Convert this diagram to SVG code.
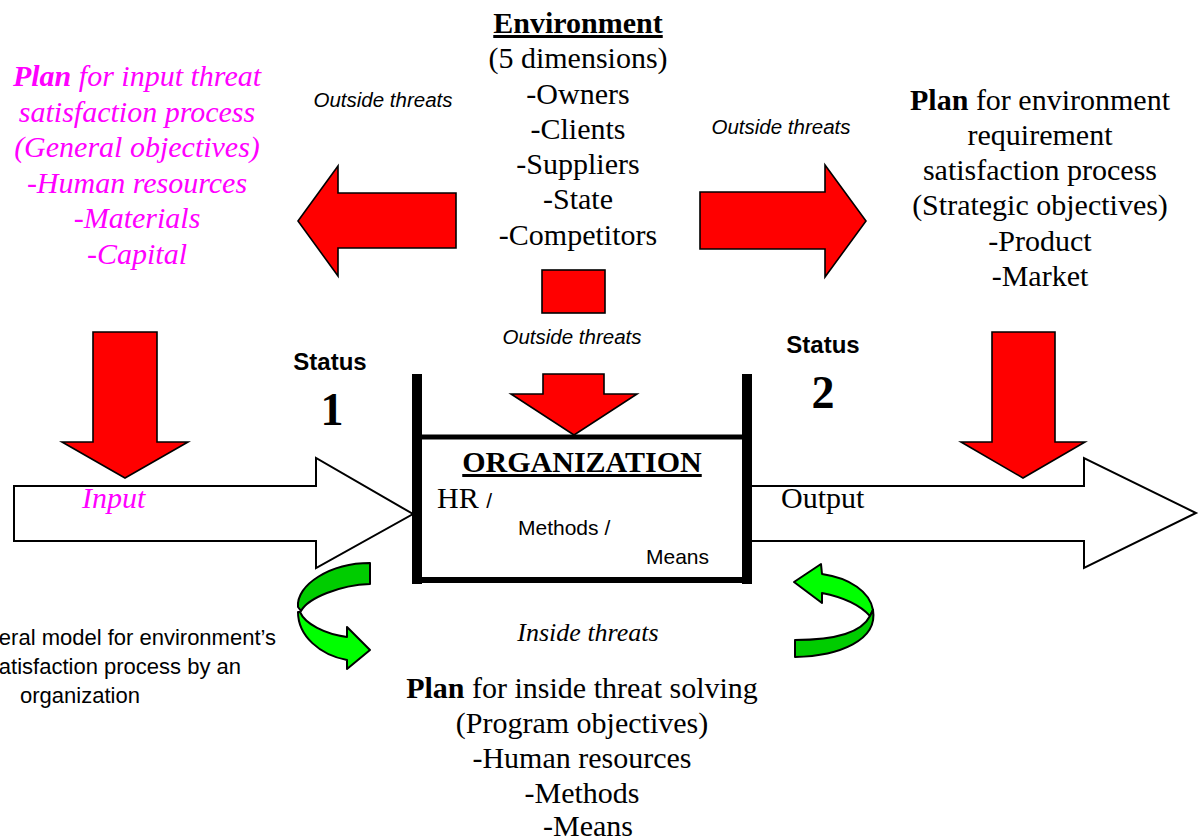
<svg xmlns="http://www.w3.org/2000/svg" width="1199" height="839" viewBox="0 0 1199 839">
<style>
.serif{font-family:"Liberation Serif","Times New Roman",serif;font-size:30px;fill:#000}
.sans{font-family:"Liberation Sans",Arial,sans-serif;fill:#000}
.mid{text-anchor:middle}
.mag{fill:#FF00FF;font-style:italic}
.ot{font-family:"Liberation Sans",Arial,sans-serif;font-style:italic;font-size:20.5px;text-anchor:middle;fill:#000}
.red{fill:#FF0000;stroke:#000;stroke-width:1.6;stroke-linejoin:miter}
.white{fill:#fff;stroke:#000;stroke-width:2}
.gl{fill:#00FF00;stroke:#000;stroke-width:2;stroke-linejoin:round}
.gd{fill:#00CC00;stroke:#000;stroke-width:2;stroke-linejoin:round}
.big{font-size:46px;font-weight:bold}
</style>
<rect width="1199" height="839" fill="#fff"/>
<g id="connectors">
  <polygon class="red" points="298,221 338,166 338,193 456,193 456,248 338,248 338,276"/>
  <polygon class="red" points="700,192 825,192 825,165 866,221 825,277 825,249 700,249"/>
  <rect class="red" x="542" y="270" width="63" height="43"/>
  <polygon class="red" points="93,332 157,332 157,442 188,442 125,478 62,442 93,442"/>
  <polygon class="red" points="992,332 1055,332 1055,442 1085,442 1023,478 961,442 992,442"/>
  <polygon class="white" points="14,486 316,486 316,458 413,514 316,568 316,541 14,541"/>
  <polygon class="white" points="748,486 1084,486 1084,458 1196,513 1084,568 1084,541 748,541"/>
  <path class="gd" d="M370,563 L370,584 C340,585 308,598 301,611 L298,607 C296,585 330,563 370,563 Z"/>
  <path class="gl" d="M298,612 C298,636 320,655 347,660 L347,669 L370,650 L347,627 L347,637 C325,634 305,624 300,612 Z"/>
  <path class="gl" d="M794,582 L821,564 L822,574 C850,578 870,592 873,610 L870,616 C860,605 842,597 822,593 L822,603 Z"/>
  <path class="gd" d="M873,610 C878,640 840,656 795,657 L795,640 C838,640 862,632 870,616 Z"/>
</g>
<g id="organization">
  <line x1="417" y1="374" x2="417" y2="584" stroke="#000" stroke-width="10"/>
  <line x1="747" y1="374" x2="747" y2="584" stroke="#000" stroke-width="10"/>
  <line x1="417" y1="437" x2="747" y2="437" stroke="#000" stroke-width="5"/>
  <line x1="417" y1="580" x2="747" y2="580" stroke="#000" stroke-width="6"/>
  <polygon class="red" points="543,374 604,374 604,394 637,394 574,435 511,394 543,394"/>
  <text class="serif mid" x="582" y="472" font-weight="bold" text-decoration="underline">ORGANIZATION</text>
  <text class="serif" x="437" y="508">HR <tspan class="sans" style="font-size:21px">/</tspan></text>
  <text class="sans" x="518" y="535" style="font-size:21px">Methods /</text>
  <text class="sans" x="646" y="564" style="font-size:21px">Means</text>
</g>
<g id="environment">
  <text class="serif mid" x="578" y="33" font-weight="bold" text-decoration="underline">Environment</text>
  <text class="serif mid" x="578" y="68">(5 dimensions)</text>
  <text class="serif mid" x="578" y="104">-Owners</text>
  <text class="serif mid" x="578" y="139">-Clients</text>
  <text class="serif mid" x="578" y="174">-Suppliers</text>
  <text class="serif mid" x="578" y="209">-State</text>
  <text class="serif mid" x="578" y="245">-Competitors</text>
</g>
<g id="input-plan">
  <text class="serif mid mag" x="137" y="86"><tspan font-weight="bold">Plan</tspan> for input threat</text>
  <text class="serif mid mag" x="137" y="122">satisfaction process</text>
  <text class="serif mid mag" x="137" y="157">(General objectives)</text>
  <text class="serif mid mag" x="137" y="193">-Human resources</text>
  <text class="serif mid mag" x="137" y="228">-Materials</text>
  <text class="serif mid mag" x="137" y="264">-Capital</text>
</g>
<g id="environment-plan">
  <text class="serif mid" x="1040" y="110"><tspan font-weight="bold">Plan</tspan> for environment</text>
  <text class="serif mid" x="1040" y="145">requirement</text>
  <text class="serif mid" x="1040" y="180">satisfaction process</text>
  <text class="serif mid" x="1040" y="215">(Strategic objectives)</text>
  <text class="serif mid" x="1040" y="251">-Product</text>
  <text class="serif mid" x="1040" y="286">-Market</text>
</g>
<g id="inside-plan">
  <text class="serif mid" x="582" y="698"><tspan font-weight="bold">Plan</tspan> for inside threat solving</text>
  <text class="serif mid" x="582" y="733">(Program objectives)</text>
  <text class="serif mid" x="582" y="768">-Human resources</text>
  <text class="serif mid" x="582" y="803">-Methods</text>
  <text class="serif mid" x="588" y="836">-Means</text>
</g>
<g id="labels">
  <text class="ot" x="383" y="107">Outside threats</text>
  <text class="ot" x="781" y="134">Outside threats</text>
  <text class="ot" x="572" y="344">Outside threats</text>
  <text class="sans mid" x="330" y="370" style="font-size:24px;font-weight:bold">Status</text>
  <text class="serif mid big" x="332" y="425">1</text>
  <text class="sans mid" x="823" y="353" style="font-size:24px;font-weight:bold">Status</text>
  <text class="serif mid big" x="823" y="408">2</text>
  <text class="serif mag" x="82" y="508">Input</text>
  <text class="serif" x="781" y="508">Output</text>
  <text class="serif mid" x="588" y="641" style="font-size:26px;font-style:italic">Inside threats</text>
</g>
<g id="caption">
  <text class="sans" x="276" y="645" style="font-size:22px" text-anchor="end">eral model for environment’s</text>
  <text class="sans" x="241" y="674" style="font-size:22px" text-anchor="end">atisfaction process by an</text>
  <text class="sans" x="20" y="703" style="font-size:22px">organization</text>
</g>
</svg>
